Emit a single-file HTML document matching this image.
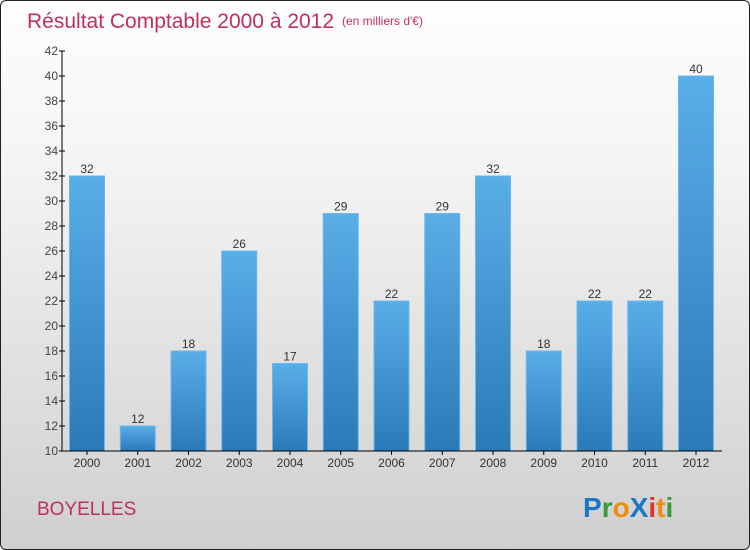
<!DOCTYPE html>
<html><head><meta charset="utf-8"><style>
body{margin:0}
#wrap{position:relative;width:748px;height:548px;border:1px solid #222;border-radius:6px;overflow:hidden;background:linear-gradient(#fefefe,#f4f4f4 30%,#cfcfcf);font-family:"Liberation Sans",sans-serif}
</style></head><body>
<div id="wrap">
<svg width="750" height="550" id="svg">
<defs><linearGradient id="bg" x1="0" y1="0" x2="0" y2="1"><stop offset="0" stop-color="#5aaee8"/><stop offset="1" stop-color="#2a7ab8"/></linearGradient></defs>
<text x="26" y="27" font-size="21" fill="#c0305a">Résultat Comptable 2000 à 2012</text>
<text x="341" y="24" font-size="12" fill="#c0305a">(en milliers d'€)</text>
<text x="36" y="514" font-size="19" fill="#c0305a">BOYELLES</text>
<g font-size="28" font-weight="bold" font-family="Liberation Sans,sans-serif">
<text x="582" y="516"><tspan fill="#1a78c8">P</tspan><tspan fill="#3a9a3a">r</tspan><tspan fill="#f08a10">o</tspan><tspan fill="#1a78c8">X</tspan><tspan fill="#e03030">i</tspan><tspan fill="#f08a10">t</tspan><tspan fill="#3a9a3a">i</tspan></text></g>
<g id="plot"></g>
</svg></div>
<script>
const years=["2000","2001","2002","2003","2004","2005","2006","2007","2008","2009","2010","2011","2012"];
const values=[32,12,18,26,17,29,22,29,32,18,22,22,40];
const ticks=[10,12,14,16,18,20,22,24,26,28,30,32,34,36,38,40,42];
const ns="http://www.w3.org/2000/svg",g=document.getElementById('plot');
const y=v=>450-(v-10)*12.5, x=i=>86+i*50.75;
function mk(t,a,p){const e=document.createElementNS(ns,t);for(const k in a)e.setAttribute(k,a[k]);(p||g).appendChild(e);return e;}
values.forEach((v,i)=>{
 const r=mk('rect',{x:x(i)-17.5,y:y(v),width:35,height:450-y(v),fill:'url(#bg)',stroke:'#6ab8f0','stroke-width':1});
 
 
 const t=mk('text',{x:x(i),y:y(v)-3,'text-anchor':'middle','font-size':12,fill:'#333'});t.textContent=v;
 
 
 const l=mk('text',{x:x(i),y:466,'text-anchor':'middle','font-size':12,fill:'#333'});l.textContent=years[i];
 
 
 mk('line',{x1:x(i),x2:x(i),y1:450,y2:454,stroke:'#000'});
});
const ya=mk('line',{x1:61,x2:61,y1:50,y2:450,stroke:'#000'});


const xa=mk('line',{x1:61,x2:721,y1:450,y2:450,stroke:'#000'});


ticks.forEach(v=>{
 mk('line',{x1:58,x2:64,y1:y(v),y2:y(v),stroke:'#000'});
 const t=mk('text',{x:57,y:y(v)+4,'text-anchor':'end','font-size':12,fill:'#444'});t.textContent=v;
 
 
});
</script>
</body></html>
